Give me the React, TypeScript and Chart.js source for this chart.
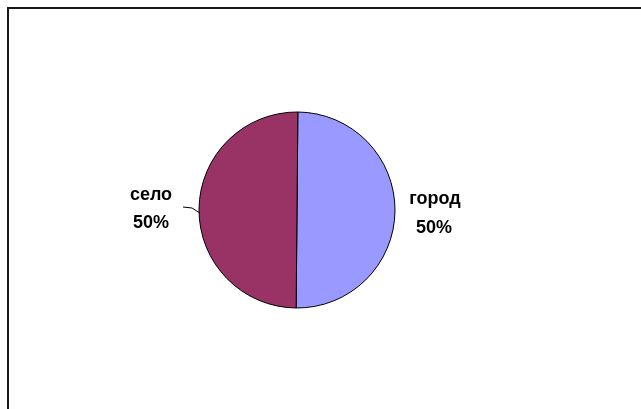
import React, { useEffect, useRef } from "react";
import { Chart, registerables } from "chart.js";

Chart.register(...registerables);

const categories = ["город", "село"];
const shares = [50, 50];
const percentLabels = ["50%", "50%"];
const colors = ["#9999FF", "#993366"];

const framePlugin = {
  id: "frame",
  beforeDraw(chart: any) {
    const ctx = chart.ctx;
    ctx.save();
    ctx.fillStyle = "#ffffff";
    ctx.fillRect(0, 0, chart.width, chart.height);
    ctx.strokeStyle = "#1a1a1a";
    ctx.lineWidth = 2;
    ctx.beginPath();
    ctx.moveTo(8, 420);
    ctx.lineTo(8, 8);
    ctx.lineTo(660, 8);
    ctx.stroke();
    ctx.restore();
  },
  afterDraw(chart: any) {
    const ctx = chart.ctx;
    const meta = chart.getDatasetMeta(0);
    ctx.save();
    ctx.fillStyle = "#000000";
    ctx.font = "bold 18px 'Liberation Sans', Arial, sans-serif";
    ctx.textAlign = "center";
    ctx.textBaseline = "alphabetic";
    const arcR = meta.data[0];
    const cx = arcR.x;
    const cy = arcR.y;
    const r = arcR.outerRadius;
    // город (right)
    ctx.fillText(categories[0], cx + r + 40, cy - 6);
    ctx.fillText(percentLabels[0], cx + r + 39, cy + 23);
    // село (left)
    ctx.fillText(categories[1], cx - r - 48, cy - 10);
    ctx.fillText(percentLabels[1], cx - r - 48, cy + 18);
    // leader line
    ctx.strokeStyle = "#000000";
    ctx.lineWidth = 1;
    ctx.beginPath();
    ctx.moveTo(cx - r - 16, cy - 3);
    ctx.lineTo(cx - r - 7, cy - 2);
    ctx.lineTo(cx - r + 1, cy + 3);
    ctx.stroke();
    ctx.restore();
  },
};

export default function App() {
  const ref = useRef<HTMLCanvasElement>(null);
  useEffect(() => {
    document.body.style.margin = "0";
    const chart = new Chart(ref.current!, {
      type: "pie",
      data: {
        labels: categories,
        datasets: [
          {
            data: shares,
            backgroundColor: colors,
            borderColor: "#000000",
            borderWidth: 1,
          },
        ],
      },
      options: {
        animation: false,
        responsive: false,
        rotation: 0.5,
        layout: { padding: { left: 198.5, top: 111.5, right: 245.5, bottom: 100.5 } },
        plugins: {
          legend: { display: false },
          tooltip: { enabled: false },
        },
      },
      plugins: [framePlugin],
    });
    return () => chart.destroy();
  }, []);
  return (
    <div style={{ position: "fixed", left: 0, top: 0, width: 641, height: 409 }}>
      <canvas ref={ref} width={641} height={409} style={{ width: 641, height: 409 }} />
    </div>
  );
}
